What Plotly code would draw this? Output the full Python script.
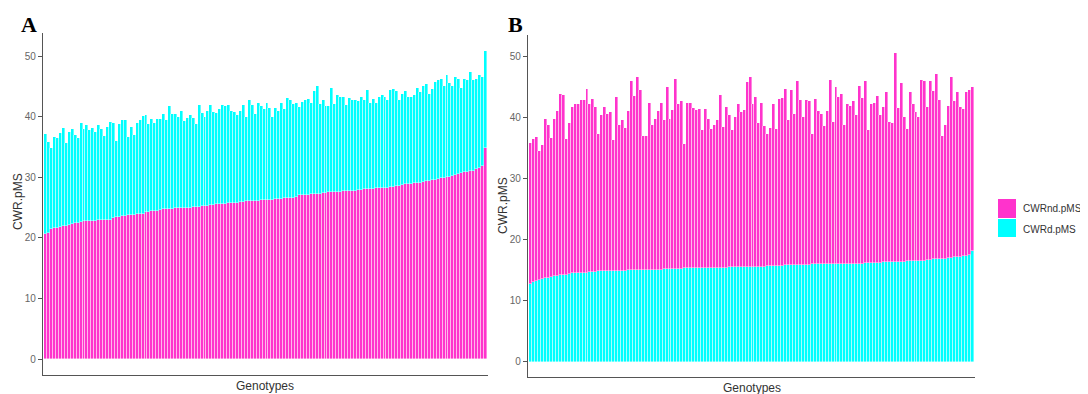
import plotly.graph_objects as go

# Page has an 8px body margin, so the figure sits at (8, 8).
W, H = 1080, 386
OFF = 8

# ---------------- Panel A ----------------
# total height of each stacked bar (CWRnd + CWRd)
A_total = [37.1, 35.8, 34.8, 36.7, 36.5, 37.3, 38.1, 35.6, 37.4, 38.0,
           37.0, 36.5, 38.9, 37.9, 38.6, 37.8, 38.2, 37.4, 38.6, 37.9,
           36.8, 38.3, 39.1, 38.9, 36.0, 38.8, 39.5, 39.4, 36.6, 38.3,
           37.0, 39.0, 39.4, 40.1, 40.2, 38.8, 39.6, 39.0, 39.6, 39.6,
           40.5, 39.5, 41.7, 40.5, 40.4, 40.0, 41.0, 39.2, 39.8, 40.2,
           39.7, 38.8, 41.9, 40.6, 40.0, 41.0, 42.0, 40.8, 40.6, 41.2,
           42.0, 41.8, 42.0, 41.0, 40.8, 40.2, 41.0, 41.9, 40.0, 42.7,
           42.0, 40.5, 42.2, 41.7,
           41.3, 42.2, 41.5, 40.0, 41.4, 41.0, 42.2, 41.3, 43.0, 42.7,
           42.1, 42.2, 41.6, 42.4, 42.7, 42.9, 42.2, 44.3, 45.1, 42.1,
           42.7, 41.8, 41.8, 44.8, 42.1, 43.5, 43.3, 43.2, 42.0, 43.0,
           42.7, 42.7, 42.5, 43.2, 42.7, 44.4, 42.2, 42.9, 42.2, 43.2,
           43.5, 43.3, 42.7, 44.4, 44.6, 44.3, 42.7, 43.8, 44.3, 43.2,
           43.2, 43.6, 44.8, 44.0, 45.0, 45.4, 43.8, 44.6, 45.7, 46.1,
           46.2, 45.0, 46.8, 45.5, 45.0, 46.5, 46.2, 44.8, 46.2, 46.1,
           47.3, 46.0, 46.2, 46.8, 46.6, 50.9]

A_nd = [20.6, 20.8, 21.4, 21.6, 21.7, 21.8, 21.9, 22.0, 22.1, 22.3,
        22.4, 22.5, 22.6, 22.7, 22.7, 22.8, 22.8, 22.8, 22.9, 22.9,
        22.9, 23.0, 23.0, 23.2, 23.4, 23.5, 23.6, 23.6, 23.7, 23.8,
        23.8, 23.9, 24.0, 24.0, 24.2, 24.3, 24.4, 24.5, 24.5, 24.6,
        24.7, 24.7, 24.8, 24.8, 24.9, 24.9, 24.9, 25.0, 25.0, 25.0,
        25.1, 25.1, 25.1, 25.2, 25.3, 25.3, 25.4, 25.4, 25.5, 25.5,
        25.6, 25.6, 25.7, 25.7, 25.8, 25.8, 25.9, 25.9, 26.0, 26.0,
        26.0, 26.1, 26.1, 26.2, 26.2, 26.2, 26.3, 26.3, 26.4, 26.4,
        26.4, 26.5, 26.5, 26.5, 26.6, 26.8, 27.0, 27.1, 27.1, 27.1,
        27.2, 27.2, 27.3, 27.3, 27.4, 27.4, 27.5, 27.5, 27.5, 27.6,
        27.6, 27.7, 27.7, 27.8, 27.8, 27.8, 27.9, 27.9, 28.0, 28.0,
        28.1, 28.1, 28.2, 28.2, 28.3, 28.3, 28.3, 28.4, 28.4, 28.5,
        28.6, 28.7, 28.8, 28.8, 28.9, 29.0, 29.0, 29.1, 29.2, 29.3,
        29.4, 29.5, 29.6, 29.7, 29.8, 29.9, 30.0, 30.1, 30.2, 30.4,
        30.6, 30.7, 30.8, 30.9, 31.0, 31.1, 31.3, 31.5, 31.8, 34.8]

# ---------------- Panel B ----------------
B_d = [12.7, 13.0, 13.2, 13.4, 13.5, 13.7, 13.8, 13.9, 14.0, 14.1,
       14.2, 14.2, 14.3, 14.4, 14.5, 14.5, 14.5, 14.6, 14.6, 14.6,
       14.7, 14.7, 14.7, 14.8, 14.8, 14.8, 14.8, 14.8, 14.9, 14.9,
       14.9, 14.9, 14.9, 15.0, 15.0, 15.0, 15.0, 15.0, 15.0, 15.1,
       15.1, 15.1, 15.1, 15.1, 15.1, 15.2, 15.2, 15.2, 15.2, 15.2,
       15.2, 15.2, 15.3, 15.3, 15.3, 15.3, 15.3, 15.3, 15.3, 15.3,
       15.4, 15.4, 15.4, 15.4, 15.4, 15.4, 15.4, 15.5, 15.5, 15.5,
       15.5, 15.5, 15.5, 15.5, 15.6, 15.6, 15.6, 15.6, 15.6, 15.6,
       15.7, 15.7, 15.7, 15.7, 15.7, 15.7, 15.8, 15.8, 15.8, 15.8,
       15.8, 15.9, 15.9, 15.9, 15.9, 16.0, 16.0, 16.0, 16.0, 16.0,
       16.0, 16.0, 16.0, 16.1, 16.1, 16.1, 16.1, 16.1, 16.1, 16.1,
       16.1, 16.1, 16.1, 16.2, 16.2, 16.2, 16.2, 16.2, 16.2, 16.3,
       16.3, 16.3, 16.3, 16.3, 16.4, 16.4, 16.4, 16.5, 16.5, 16.5,
       16.5, 16.6, 16.6, 16.6, 16.7, 16.7, 16.8, 16.8, 16.8, 16.9,
       16.9, 17.0, 17.0, 17.1, 17.1, 17.2, 17.3, 17.4, 17.5, 18.1]

B_total = [35.9, 36.5, 36.8, 34.6, 35.5, 39.9, 38.8, 36.7, 39.9, 41.2,
           44.0, 43.7, 36.5, 39.1, 41.8, 42.2, 42.3, 42.9, 42.9, 44.8,
           42.2, 43.1, 41.8, 37.3, 40.5, 41.8, 40.6, 40.9, 36.3, 43.4,
           38.8, 39.6, 38.4, 41.2, 46.0, 43.6, 46.7, 44.5, 37.0, 37.0,
           42.5, 38.8, 39.9, 41.2, 42.5, 39.6, 45.0, 39.8, 41.3, 46.4,
           42.2, 42.7, 35.7, 42.4, 42.5, 41.7, 41.3, 41.4, 38.0, 41.4,
           39.9, 38.1, 38.8, 39.6, 43.8, 38.5, 41.8, 40.5, 38.0,
           40.2, 42.3, 41.0, 41.3, 45.9, 46.7, 42.3, 43.4, 39.2, 42.5,
           38.7, 37.3, 38.3, 42.2, 38.1, 43.1, 43.2, 44.8, 39.6, 44.6,
           40.6, 46.1, 42.9, 40.2, 42.9, 42.7, 37.3, 43.1, 41.2, 40.7,
           38.7, 41.2, 46.2, 39.4, 45.0, 43.4, 44.0, 38.8, 42.2, 42.0,
           42.7, 40.5, 45.3, 43.3, 46.1, 38.0, 42.2, 42.5, 43.6, 40.5,
           41.8, 44.3, 39.4, 39.1, 50.7, 41.7, 45.7, 40.1, 38.1, 44.2,
           42.2, 41.0, 40.2, 46.2, 46.0, 41.8, 46.1, 44.4, 47.2, 42.9,
           37.0, 38.8, 42.0, 46.7, 42.7, 44.3, 41.8, 41.4, 44.2, 44.6, 45.0]

n = min(len(A_total), len(A_nd), len(B_d), len(B_total))
A_total, A_nd, B_d, B_total = A_total[:n], A_nd[:n], B_d[:n], B_total[:n]
A_d = [round(t - b, 2) for t, b in zip(A_total, A_nd)]
B_nd = [round(t - b, 2) for t, b in zip(B_total, B_d)]
genotypes = list(range(1, n + 1))

MAG = "#FF33CC"
CYA = "#00FFFF"
EDGE = dict(width=0.45, color="rgba(255,255,255,0.9)")

fig = go.Figure()
fig.add_trace(go.Bar(x=genotypes, y=A_nd, marker=dict(color=MAG, line=EDGE),
                     name="CWRnd.pMS", xaxis="x", yaxis="y", showlegend=False))
fig.add_trace(go.Bar(x=genotypes, y=A_d, marker=dict(color=CYA, line=EDGE),
                     name="CWRd.pMS", xaxis="x", yaxis="y", showlegend=False))
fig.add_trace(go.Bar(x=genotypes, y=B_d, marker=dict(color=CYA, line=EDGE),
                     name="CWRd.pMS", xaxis="x2", yaxis="y2", showlegend=False))
fig.add_trace(go.Bar(x=genotypes, y=B_nd, marker=dict(color=MAG, line=EDGE),
                     name="CWRnd.pMS", xaxis="x2", yaxis="y2", showlegend=False))

FONT = "Liberation Sans, Arial, sans-serif"
AXC = "#555555"

def px_x(x):
    return (x - OFF) / W

def px_y(y):
    return 1 - (y - OFF) / H

def xax(d0, d1, anchor):
    return dict(domain=[px_x(d0), px_x(d1)], range=[0.1, n + 0.9], showticklabels=False,
                ticks="", showline=True, linecolor=AXC, linewidth=1.3, showgrid=False,
                zeroline=False, fixedrange=True, anchor=anchor)

def yax(top, bot, rng, anchor):
    return dict(domain=[px_y(bot), px_y(top)], range=rng, tickvals=[0, 10, 20, 30, 40, 50],
                ticks="outside", ticklen=4, tickwidth=1, tickcolor=AXC, showline=True,
                linecolor=AXC, linewidth=1.3, showgrid=False, zeroline=False,
                tickfont=dict(family=FONT, size=10, color="#666666"), anchor=anchor)

fig.update_layout(
    width=W, height=H, margin=dict(l=0, r=0, t=0, b=0),
    paper_bgcolor="white", plot_bgcolor="white",
    barmode="stack", bargap=0, showlegend=False,
    xaxis=xax(43, 488, "y"), yaxis=yax(33, 375, [-2.64, 53.8], "x"),
    xaxis2=xax(528, 975, "y2"), yaxis2=yax(35, 376.5, [-2.43, 53.6], "x2"),
)

ann = []
def add_text(x, y, text, size, color="#333333", family=FONT, angle=0, xanchor="center", bold=False):
    ann.append(dict(x=px_x(x), y=px_y(y), xref="paper", yref="paper",
                    text=("<b>%s</b>" % text if bold else text),
                    showarrow=False, textangle=angle, xanchor=xanchor, yanchor="middle",
                    font=dict(family=family, size=size, color=color)))

add_text(29, 24, "A", 22, color="black", family="Liberation Serif, Times New Roman, serif", bold=True)
add_text(515, 24, "B", 22, color="black", family="Liberation Serif, Times New Roman, serif", bold=True)
add_text(18, 202, "CWR.pMS", 12, angle=-90)
add_text(503, 206, "CWR.pMS", 12, angle=-90)
add_text(265, 386, "Genotypes", 12)
add_text(752, 387.5, "Genotypes", 12)
add_text(1021, 209, "CWRnd.pMS", 10, xanchor="left")
add_text(1021, 229, "CWRd.pMS", 10, xanchor="left")
fig.update_layout(annotations=ann)

fig.add_shape(type="rect", xref="paper", yref="paper", x0=px_x(998), x1=px_x(1016),
              y0=px_y(218), y1=px_y(199), fillcolor=MAG, line=dict(width=0))
fig.add_shape(type="rect", xref="paper", yref="paper", x0=px_x(998), x1=px_x(1016),
              y0=px_y(237), y1=px_y(219), fillcolor=CYA, line=dict(width=0))

fig.write_html("out.html")
